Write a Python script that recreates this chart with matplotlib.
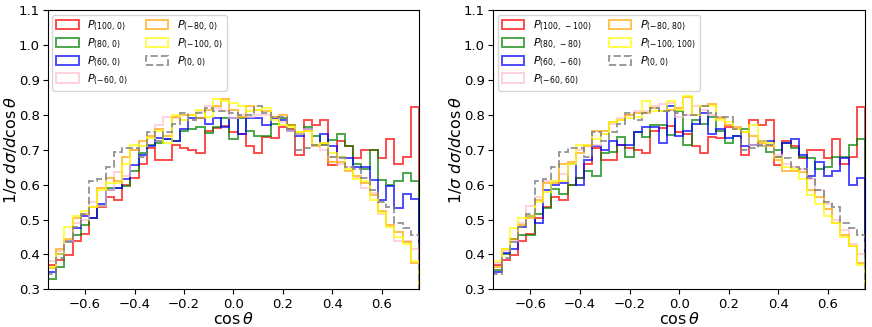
import numpy as np
import matplotlib
matplotlib.use("Agg")
import matplotlib.pyplot as plt

# 45 bins on [-0.75, 0.75]
edges = np.linspace(-0.75, 0.75, 46)
centers = 0.5 * (edges[:-1] + edges[1:])

# ---- left panel ----
red_L = [0.370, 0.385, 0.398, 0.440, 0.460, 0.505, 0.535, 0.565, 0.555, 0.600,
         0.620, 0.658, 0.705, 0.672, 0.670, 0.715, 0.705, 0.700, 0.690, 0.755,
         0.762, 0.768, 0.750, 0.745, 0.712, 0.692, 0.738, 0.733, 0.765, 0.760,
         0.685, 0.785, 0.772, 0.785, 0.655, 0.725, 0.710, 0.675, 0.698, 0.700,
         0.675, 0.732, 0.658, 0.680, 0.823]
green_L = [0.330, 0.365, 0.440, 0.455, 0.485, 0.505, 0.540, 0.590, 0.590, 0.595,
           0.640, 0.690, 0.715, 0.720, 0.730, 0.725, 0.755, 0.760, 0.765, 0.748,
           0.765, 0.790, 0.730, 0.790, 0.755, 0.740, 0.740, 0.775, 0.790, 0.770,
           0.745, 0.765, 0.740, 0.715, 0.728, 0.745, 0.710, 0.660, 0.645, 0.700,
           0.612, 0.600, 0.610, 0.633, 0.610]
blue_L = [0.350, 0.400, 0.440, 0.475, 0.510, 0.505, 0.545, 0.585, 0.590, 0.615,
          0.655, 0.685, 0.710, 0.735, 0.730, 0.725, 0.760, 0.790, 0.790, 0.775,
          0.790, 0.765, 0.790, 0.745, 0.790, 0.790, 0.770, 0.790, 0.785, 0.755,
          0.740, 0.760, 0.715, 0.745, 0.710, 0.680, 0.675, 0.652, 0.650, 0.614,
          0.557, 0.595, 0.534, 0.574, 0.559]
pink_L = [0.380, 0.410, 0.440, 0.490, 0.500, 0.550, 0.540, 0.585, 0.635, 0.625,
          0.700, 0.710, 0.735, 0.770, 0.795, 0.790, 0.785, 0.800, 0.810, 0.825,
          0.820, 0.810, 0.790, 0.800, 0.795, 0.800, 0.800, 0.795, 0.780, 0.755,
          0.745, 0.760, 0.715, 0.700, 0.680, 0.660, 0.650, 0.620, 0.590, 0.575,
          0.515, 0.478, 0.440, 0.440, 0.417]
orange_L = [0.360, 0.415, 0.445, 0.505, 0.515, 0.535, 0.590, 0.620, 0.610, 0.680,
            0.700, 0.725, 0.740, 0.760, 0.740, 0.795, 0.800, 0.800, 0.790, 0.815,
            0.825, 0.845, 0.815, 0.795, 0.825, 0.815, 0.810, 0.795, 0.800, 0.770,
            0.750, 0.755, 0.710, 0.720, 0.665, 0.665, 0.640, 0.625, 0.605, 0.570,
            0.525, 0.485, 0.465, 0.435, 0.375]
yellow_L = [0.365, 0.400, 0.480, 0.510, 0.525, 0.535, 0.585, 0.605, 0.605, 0.660,
            0.715, 0.710, 0.735, 0.755, 0.720, 0.800, 0.785, 0.800, 0.815, 0.795,
            0.845, 0.840, 0.835, 0.825, 0.810, 0.815, 0.820, 0.785, 0.770, 0.765,
            0.750, 0.755, 0.715, 0.720, 0.690, 0.680, 0.645, 0.615, 0.610, 0.555,
            0.520, 0.480, 0.450, 0.430, 0.380]
gray_00 = [0.345, 0.390, 0.435, 0.480, 0.515, 0.610, 0.615, 0.650, 0.695, 0.705,
           0.705, 0.680, 0.750, 0.725, 0.750, 0.775, 0.805, 0.785, 0.805, 0.820,
           0.810, 0.810, 0.805, 0.800, 0.800, 0.825, 0.805, 0.795, 0.795, 0.760,
           0.700, 0.705, 0.715, 0.715, 0.680, 0.675, 0.650, 0.645, 0.620, 0.585,
           0.550, 0.535, 0.490, 0.475, 0.455]

# ---- right panel ----
red_R = list(red_L)
green_R = [0.355, 0.400, 0.445, 0.455, 0.455, 0.515, 0.533, 0.588, 0.574, 0.600,
           0.620, 0.638, 0.626, 0.690, 0.695, 0.738, 0.680, 0.750, 0.738, 0.770,
           0.770, 0.743, 0.810, 0.715, 0.785, 0.775, 0.795, 0.755, 0.720, 0.740,
           0.760, 0.715, 0.710, 0.695, 0.700, 0.720, 0.705, 0.680, 0.675, 0.645,
           0.650, 0.680, 0.680, 0.715, 0.730]
blue_R = [0.350, 0.405, 0.415, 0.480, 0.510, 0.490, 0.585, 0.600, 0.605, 0.660,
          0.600, 0.670, 0.710, 0.700, 0.725, 0.715, 0.715, 0.750, 0.765, 0.765,
          0.720, 0.825, 0.740, 0.755, 0.775, 0.805, 0.745, 0.760, 0.735, 0.740,
          0.710, 0.715, 0.725, 0.725, 0.680, 0.720, 0.730, 0.685, 0.625, 0.665,
          0.625, 0.640, 0.675, 0.600, 0.620]
pink_R = [0.375, 0.410, 0.440, 0.490, 0.540, 0.565, 0.610, 0.610, 0.630, 0.660,
          0.700, 0.715, 0.715, 0.745, 0.775, 0.790, 0.800, 0.810, 0.810, 0.825,
          0.830, 0.835, 0.795, 0.800, 0.825, 0.815, 0.800, 0.795, 0.770, 0.760,
          0.750, 0.715, 0.710, 0.715, 0.685, 0.660, 0.650, 0.645, 0.615, 0.585,
          0.545, 0.500, 0.470, 0.430, 0.400]
orange_R = [0.365, 0.415, 0.445, 0.485, 0.505, 0.555, 0.605, 0.605, 0.660, 0.665,
            0.690, 0.710, 0.755, 0.755, 0.780, 0.785, 0.800, 0.805, 0.805, 0.820,
            0.810, 0.815, 0.820, 0.850, 0.800, 0.825, 0.830, 0.790, 0.770, 0.765,
            0.750, 0.740, 0.720, 0.710, 0.670, 0.640, 0.640, 0.635, 0.585, 0.565,
            0.530, 0.490, 0.455, 0.425, 0.375]
yellow_R = [0.380, 0.415, 0.475, 0.505, 0.510, 0.550, 0.580, 0.610, 0.610, 0.660,
            0.715, 0.715, 0.730, 0.745, 0.780, 0.785, 0.790, 0.795, 0.840, 0.810,
            0.810, 0.840, 0.815, 0.855, 0.800, 0.825, 0.825, 0.785, 0.780, 0.760,
            0.750, 0.770, 0.725, 0.720, 0.680, 0.650, 0.645, 0.615, 0.570, 0.545,
            0.510, 0.490, 0.450, 0.425, 0.370]

labels_L = [r'$P_{(100,\,0)}$', r'$P_{(80,\,0)}$', r'$P_{(60,\,0)}$', r'$P_{(-60,\,0)}$',
            r'$P_{(-80,\,0)}$', r'$P_{(-100,\,0)}$', r'$P_{(0,\,0)}$']
labels_R = [r'$P_{(100,\,-100)}$', r'$P_{(80,\,-80)}$', r'$P_{(60,\,-60)}$', r'$P_{(-60,\,60)}$',
            r'$P_{(-80,\,80)}$', r'$P_{(-100,\,100)}$', r'$P_{(0,\,0)}$']
colors = ['red', 'green', 'blue', 'pink', 'orange', 'yellow', 'gray']

fig = plt.figure(figsize=(8.72, 3.27), dpi=100)
axL = fig.add_axes([0.055, 0.115, 0.4255, 0.854])
axR = fig.add_axes([0.5657, 0.115, 0.4263, 0.854])

def draw(ax, series, labels):
    for vals, lab, col in zip(series, labels, colors):
        ls = '--' if col == 'gray' else '-'
        alpha = 0.8 if col == 'gray' else 0.7
        ax.hist(centers, bins=edges, weights=vals, histtype='step',
                color=col, lw=1.4, ls=ls, alpha=alpha, label=lab)
    ax.set_xlim(-0.75, 0.75)
    ax.set_ylim(0.3, 1.1)
    ax.set_yticks(np.arange(0.3, 1.101, 0.1))
    ax.set_xticks([-0.6, -0.4, -0.2, 0.0, 0.2, 0.4, 0.6])
    ax.tick_params(labelsize=9.5, pad=2.5)
    ax.set_xlabel(r'$\cos\theta$', fontsize=11.5, labelpad=0)
    ax.set_ylabel(r'$1/\sigma\ d\sigma/d\cos\theta$', fontsize=11.5, labelpad=0)
    ax.legend(loc='upper left', ncol=2, fontsize=8, handlelength=2.0,
              handleheight=0.9, columnspacing=1.6, labelspacing=0.32,
              borderpad=0.35, borderaxespad=0.4)

draw(axL, [red_L, green_L, blue_L, pink_L, orange_L, yellow_L, gray_00], labels_L)
draw(axR, [red_R, green_R, blue_R, pink_R, orange_R, yellow_R, gray_00], labels_R)

fig.savefig('out.png', dpi=100)
